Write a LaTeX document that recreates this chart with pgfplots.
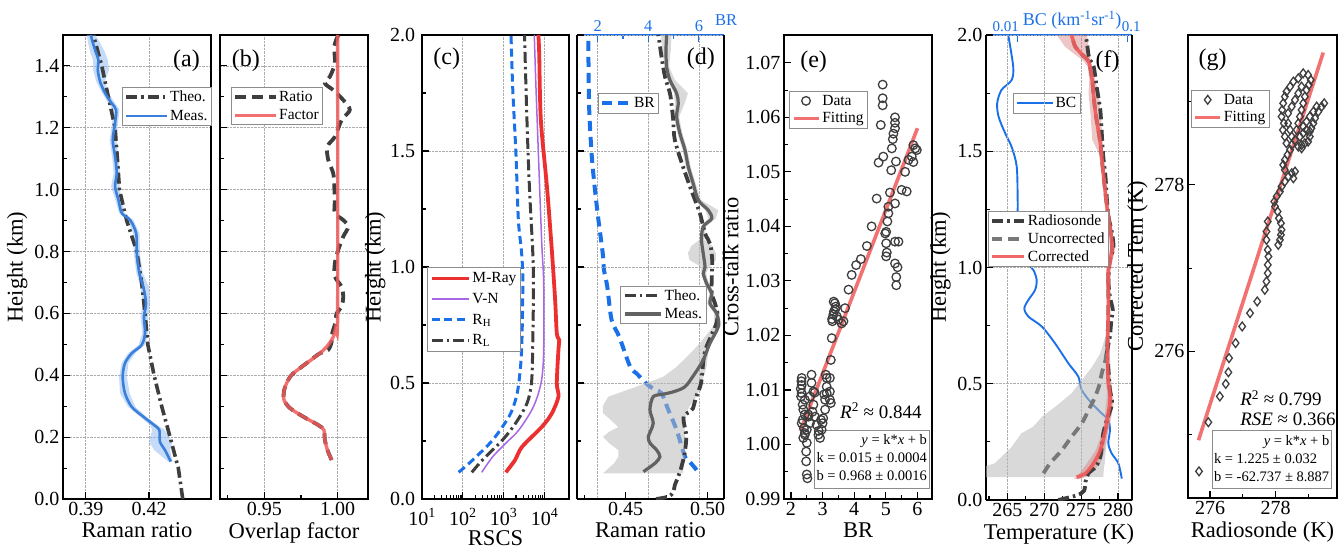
\documentclass[border=0pt]{standalone}
\usepackage{fontspec}
\setmainfont{Liberation Serif}
\usepackage{pgfplots}
\usepackage{pgfplotstable}
\pgfplotsset{compat=1.18}

% colours
\definecolor{dgray}{RGB}{62,62,62}
\definecolor{measblue}{RGB}{58,128,218}
\definecolor{bandblue}{RGB}{150,190,240}
\definecolor{fitred}{RGB}{240,88,88}
\definecolor{mray}{RGB}{236,48,48}
\definecolor{vnpurple}{RGB}{168,104,228}
\definecolor{dblue}{RGB}{26,112,232}
\definecolor{mgray}{RGB}{98,98,98}
\definecolor{ugray}{RGB}{120,120,120}
\definecolor{bgray}{RGB}{185,185,185}
\definecolor{bandred}{RGB}{215,130,130}

% font sizes
\newcommand{\fsTick}{\fontsize{20}{22}\selectfont}
\newcommand{\fsLabel}{\fontsize{22.5}{24}\selectfont}
\newcommand{\fsLeg}{\fontsize{15.5}{17}\selectfont}
\newcommand{\fsTag}{\fontsize{24}{26}\selectfont}
\newcommand{\fsBox}{\fontsize{14.5}{18}\selectfont}
\newcommand{\fsR}{\fontsize{19}{20.5}\selectfont}
\newcommand{\fsTop}{\fontsize{16.5}{18}\selectfont}
\newcommand{\fsTopS}{\fontsize{15}{17}\selectfont}
\newcommand{\fsTopL}{\fontsize{18}{20}\selectfont}

\tikzset{tag/.style={font=\fsTag}}

\pgfplotsset{
  panel/.style={
    scale only axis, height=464pt, scaled ticks=false,
    axis line style={line width=1.6pt, black},
    tick align=inside, tick pos=left,
    major tick length=7pt, minor tick length=4pt,
    tick style={line width=1.1pt, black},
    tick label style={font=\fsTick},
    label style={font=\fsLabel},
    /pgf/number format/assume math mode=true,
    grid style={densely dotted, line width=0.7pt, black!32},
    legend cell align=left,
    legend style={font=\fsLeg, draw=black!45, line width=0.8pt, fill=white,
      inner xsep=2pt, inner ysep=1.5pt, row sep=1.5pt, anchor=north west},
  },
  leglen/.style={legend image code/.code={%
    \draw[mark repeat=2,mark phase=2,##1] plot coordinates {(0pt,0pt) (#1/2,0pt) (#1,0pt)};}},
  dashdot/.style={dash pattern=on 11pt off 4pt on 2.5pt off 4pt},
}

% ---------- (a) Raman ratio, 0-1.5 km ----------
\pgfplotstableread[row sep=\\]{
h x \\
0.0 0.4360 \\ 0.1 0.4339 \\ 0.2 0.4300 \\ 0.3 0.4260 \\ 0.4 0.4224 \\
0.5 0.4194 \\ 0.6 0.4181 \\ 0.7 0.4165 \\ 0.8 0.4142 \\ 0.9 0.4094 \\
1.0 0.4060 \\ 1.1 0.4050 \\ 1.2 0.4039 \\ 1.3 0.4007 \\ 1.4 0.3976 \\ 1.5 0.3936 \\
}\theoA
\pgfplotstableread[row sep=\\]{
h x \\
0.121 0.4303 \\ 0.158 0.4276 \\ 0.185 0.4252 \\ 0.223 0.4249 \\ 0.239 0.4224 \\
0.266 0.4173 \\ 0.298 0.4118 \\ 0.342 0.4086 \\ 0.395 0.4075 \\ 0.439 0.4086 \\
0.471 0.4118 \\ 0.498 0.4165 \\ 0.536 0.4181 \\ 0.589 0.4176 \\ 0.633 0.4186 \\
0.686 0.4173 \\ 0.730 0.4154 \\ 0.794 0.4142 \\ 0.859 0.4139 \\ 0.902 0.4110 \\
0.924 0.4071 \\ 0.967 0.4055 \\ 1.010 0.4039 \\ 1.053 0.4047 \\ 1.107 0.4039 \\
1.161 0.4028 \\ 1.215 0.4039 \\ 1.258 0.4044 \\ 1.279 0.4023 \\ 1.312 0.3992 \\
1.349 0.3968 \\ 1.387 0.3957 \\ 1.419 0.3960 \\ 1.446 0.3947 \\ 1.478 0.3932 \\
1.500 0.3924 \\
}\measA

% ---------- (b) overlap ----------
\pgfplotstableread[row sep=\\]{
h x \\
0.126 0.9959 \\ 0.158 0.9931 \\ 0.191 0.9913 \\ 0.223 0.9906 \\ 0.239 0.9868 \\
0.266 0.9766 \\ 0.294 0.9675 \\ 0.321 0.9634 \\ 0.353 0.9636 \\ 0.385 0.9663 \\
0.406 0.9697 \\ 0.439 0.9788 \\ 0.471 0.9879 \\ 0.498 0.9936 \\ 0.524 0.9970 \\
0.557 0.9988 \\ 0.600 1.0000 \\ 1.500 1.0000 \\
}\factorB
\pgfplotstableread[row sep=\\]{
h x \\
0.126 0.9959 \\ 0.158 0.9931 \\ 0.191 0.9913 \\ 0.223 0.9906 \\ 0.239 0.9868 \\
0.266 0.9766 \\ 0.294 0.9675 \\ 0.321 0.9634 \\ 0.353 0.9636 \\ 0.385 0.9663 \\
0.406 0.9697 \\ 0.439 0.9788 \\ 0.471 0.9879 \\ 0.482 0.9936 \\ 0.510 0.9960 \\
0.536 0.9963 \\ 0.570 0.9985 \\ 0.600 0.9993 \\ 0.622 1.0027 \\ 0.654 1.0038 \\
0.686 1.0027 \\ 0.719 0.9981 \\ 0.762 0.9981 \\ 0.805 1.0004 \\ 0.848 1.0038 \\
0.880 1.0072 \\ 0.902 1.0038 \\ 0.924 0.9981 \\ 0.967 0.9981 \\ 1.010 0.9977 \\
1.053 0.9970 \\ 1.096 0.9936 \\ 1.139 0.9929 \\ 1.171 0.9981 \\ 1.225 1.0027 \\
1.258 1.0083 \\ 1.290 1.0038 \\ 1.322 0.9970 \\ 1.344 0.9913 \\ 1.365 0.9947 \\
1.409 0.9981 \\ 1.463 0.9977 \\ 1.500 1.0004 \\
}\ratioB

% ---------- (c) range-scaled signals ----------
\pgfplotstableread[row sep=\\]{
h v \\
0.115 1130 \\ 0.168 1900 \\ 0.225 2820 \\ 0.312 8710 \\ 0.369 15100 \\
0.441 21900 \\ 0.499 20000 \\ 0.642 21900 \\ 0.685 22900 \\ 0.714 20000 \\
0.858 18200 \\ 1.073 15100 \\ 1.346 11480 \\ 1.634 8130 \\ 1.921 7410 \\ 2.000 7080 \\
}\mrayC
\pgfplotstableread[row sep=\\]{
h v \\
0.115 290 \\ 0.182 537 \\ 0.240 1122 \\ 0.297 2344 \\ 0.384 4900 \\
0.455 7080 \\ 0.527 8710 \\ 0.642 9550 \\ 0.930 9550 \\ 1.073 8710 \\
1.203 8130 \\ 1.490 7080 \\ 1.777 6170 \\ 2.000 5620 \\
}\vnC
\pgfplotstableread[row sep=\\]{
h v \\
0.115 79 \\ 0.168 174 \\ 0.254 537 \\ 0.355 1349 \\ 0.427 1950 \\
0.499 2344 \\ 0.642 2750 \\ 0.930 2950 \\ 1.060 2750 \\ 1.203 2290 \\
1.490 1995 \\ 1.777 1660 \\ 2.000 1514 \\
}\rhC
\pgfplotstableread[row sep=\\]{
h v \\
0.115 166 \\ 0.168 302 \\ 0.254 933 \\ 0.326 1950 \\ 0.412 3715 \\
0.499 4786 \\ 0.642 5130 \\ 0.930 5370 \\ 1.073 5130 \\ 1.346 4266 \\
1.634 3715 \\ 2.000 3236 \\
}\rlC

% ---------- (d) Raman ratio 0-2 km and BR ----------
\pgfplotstableread[row sep=\\]{
h br \\
0.125 5.91 \\ 0.160 5.64 \\ 0.182 5.45 \\ 0.297 5.12 \\ 0.384 4.79 \\
0.455 4.53 \\ 0.470 4.30 \\ 0.490 4.00 \\ 0.541 3.54 \\ 0.571 3.28 \\
0.700 2.85 \\ 0.772 2.55 \\ 0.915 2.38 \\ 0.987 2.25 \\ 1.059 2.20 \\
1.203 2.03 \\ 1.346 1.88 \\ 1.490 1.76 \\ 1.700 1.66 \\ 2.000 1.63 \\
}\brD
\pgfplotstableread[row sep=\\]{
h x \\
0.000 0.4685 \\ 0.010 0.4760 \\ 0.030 0.4790 \\ 0.060 0.4800 \\ 0.095 0.4820 \\
0.138 0.4840 \\ 0.197 0.4860 \\ 0.270 0.4870 \\ 0.330 0.4855 \\ 0.360 0.4855 \\
0.375 0.4890 \\ 0.390 0.4910 \\ 0.440 0.4930 \\ 0.500 0.4960 \\ 0.600 0.4975 \\
0.650 0.4990 \\ 0.700 0.5020 \\ 0.760 0.5055 \\ 0.800 0.5060 \\ 0.843 0.5045 \\
0.886 0.5025 \\ 0.944 0.5025 \\ 1.030 0.5028 \\ 1.100 0.5015 \\ 1.145 0.4984 \\
1.231 0.4953 \\ 1.332 0.4900 \\ 1.432 0.4850 \\ 1.547 0.4800 \\ 1.634 0.4790 \\
1.700 0.4780 \\ 1.749 0.4770 \\ 1.820 0.4740 \\ 1.900 0.4720 \\ 2.000 0.4700 \\
}\theoD
\pgfplotstableread[row sep=\\]{
h x \\
0.118 0.4608 \\ 0.154 0.4679 \\ 0.182 0.4709 \\ 0.211 0.4689 \\ 0.240 0.4650 \\
0.268 0.4638 \\ 0.326 0.4668 \\ 0.384 0.4648 \\ 0.441 0.4668 \\ 0.452 0.4730 \\
0.462 0.4790 \\ 0.484 0.4862 \\ 0.542 0.4923 \\ 0.599 0.4973 \\ 0.671 0.5014 \\
0.743 0.5065 \\ 0.800 0.5055 \\ 0.843 0.5014 \\ 0.886 0.5025 \\ 0.929 0.4994 \\
0.972 0.4974 \\ 1.000 0.4984 \\ 1.059 0.4973 \\ 1.117 0.4963 \\ 1.174 0.4973 \\
1.209 0.5025 \\ 1.245 0.5004 \\ 1.288 0.4943 \\ 1.360 0.4912 \\ 1.432 0.4882 \\
1.504 0.4862 \\ 1.576 0.4831 \\ 1.648 0.4811 \\ 1.705 0.4821 \\ 1.749 0.4811 \\
1.806 0.4770 \\ 1.863 0.4750 \\ 1.935 0.4746 \\ 2.000 0.4750 \\
}\measD

% ---------- (f) temperature and BC ----------
\pgfplotstableread[row sep=\\]{
h bc \\
0.092 0.0891 \\ 0.158 0.0828 \\ 0.201 0.0719 \\ 0.244 0.0671 \\ 0.301 0.0695 \\
0.344 0.0671 \\ 0.373 0.0583 \\ 0.416 0.0473 \\ 0.473 0.0384 \\ 0.531 0.0357 \\
0.588 0.0290 \\ 0.674 0.0219 \\ 0.746 0.0166 \\ 0.789 0.0125 \\ 0.824 0.0115 \\
0.860 0.0125 \\ 0.903 0.0144 \\ 0.946 0.0149 \\ 0.989 0.0139 \\ 1.032 0.0117 \\
1.147 0.0101 \\ 1.290 0.0100 \\ 1.434 0.0098 \\ 1.519 0.0088 \\ 1.577 0.0077 \\
1.648 0.0067 \\ 1.706 0.0065 \\ 1.763 0.0071 \\ 1.806 0.0088 \\ 1.864 0.0091 \\
2.000 0.0082 \\
}\bcF
\pgfplotstableread[row sep=\\]{
h t \\
0.000 271.9 \\ 0.020 274.4 \\ 0.040 275.4 \\ 0.080 275.6 \\ 0.115 276.0 \\
0.143 277.0 \\ 0.186 277.6 \\ 0.229 277.8 \\ 0.287 278.0 \\ 0.344 278.5 \\
0.416 279.2 \\ 0.473 278.9 \\ 0.560 278.7 \\ 0.631 278.5 \\ 0.703 278.9 \\
0.775 279.1 \\ 0.817 279.3 \\ 0.875 278.9 \\ 0.946 278.7 \\ 1.038 278.9 \\
1.080 279.4 \\ 1.147 279.2 \\ 1.219 278.7 \\ 1.290 278.5 \\ 1.391 278.3 \\
1.477 278.0 \\ 1.577 277.8 \\ 1.677 277.6 \\ 1.778 277.1 \\ 1.864 276.7 \\
1.892 276.2 \\ 1.914 276.0 \\ 1.964 275.8 \\ 2.000 275.6 \\
}\sondeF
\pgfplotstableread[row sep=\\]{
h t \\
0.115 269.9 \\ 0.158 270.8 \\ 0.215 272.4 \\ 0.272 273.7 \\ 0.330 275.1 \\
0.387 276.0 \\ 0.430 276.7 \\ 0.487 277.4 \\ 0.545 277.8 \\ 0.602 278.3 \\
0.659 278.5 \\ 0.703 278.6 \\ 0.846 278.7 \\ 0.989 278.7 \\ 1.080 279.2 \\
1.176 278.9 \\ 1.262 278.5 \\ 1.405 278.0 \\ 1.534 277.6 \\ 1.677 276.9 \\
1.806 276.5 \\ 1.864 276.2 \\ 1.892 275.9 \\ 1.920 275.0 \\ 1.950 274.2 \\
1.978 273.9 \\ 2.000 273.7 \\
}\uncF
\pgfplotstableread[row sep=\\]{
h t \\
0.098 274.4 \\ 0.115 275.6 \\ 0.158 276.7 \\ 0.215 277.6 \\ 0.301 278.3 \\
0.358 278.6 \\ 0.416 278.9 \\ 0.459 278.9 \\ 0.502 278.7 \\ 0.559 278.6 \\
0.703 278.6 \\ 0.846 278.7 \\ 0.989 278.7 \\ 1.080 279.2 \\ 1.176 278.9 \\
1.262 278.5 \\ 1.405 278.0 \\ 1.534 277.6 \\ 1.677 276.9 \\ 1.806 276.5 \\
1.864 276.2 \\ 1.892 275.9 \\ 1.920 275.0 \\ 1.950 274.2 \\ 1.978 273.9 \\
2.000 273.7 \\
}\corF

\begin{document}
\begin{tikzpicture}

% ================= (a) =================
\begin{axis}[panel, at={(63pt,-499pt)}, anchor=south west, width=148pt,
  xmin=0.3792, xmax=0.4494, ymin=0, ymax=1.5,
  xtick={0.39,0.42}, ytick={0,0.2,0.4,0.6,0.8,1.0,1.2,1.4},
  minor ytick={0.1,0.3,0.5,0.7,0.9,1.1,1.3,1.5},
  xmajorgrids, ymajorgrids,
  xticklabel style={/pgf/number format/.cd,fixed,fixed zerofill,precision=2},
  yticklabel style={/pgf/number format/.cd,fixed,fixed zerofill,precision=1},
  xlabel={Raman ratio}, ylabel={Height (km)},
  leglen=40pt, legend style={at={(0.399,0.888)}, row sep=3pt}]
% uncertainty band of the measured ratio
\addplot[fill=bandblue, fill opacity=0.55, draw=none, forget plot] coordinates {
(0.4290,0.121) (0.4225,0.158) (0.4200,0.185) (0.4215,0.223) (0.4205,0.239) (0.4158,0.266)
(0.4100,0.298) (0.4062,0.342) (0.4058,0.395) (0.4070,0.439) (0.4100,0.471) (0.4150,0.498)
(0.4168,0.536) (0.4160,0.589) (0.4170,0.633) (0.4160,0.686) (0.4140,0.730) (0.4128,0.794)
(0.4125,0.859) (0.4097,0.902) (0.4058,0.924) (0.4040,0.967) (0.4020,1.010) (0.4032,1.053)
(0.4025,1.107) (0.4013,1.161) (0.4025,1.215) (0.4030,1.258) (0.4008,1.279) (0.3978,1.312)
(0.3950,1.349) (0.3935,1.387) (0.3935,1.419) (0.3920,1.446) (0.3910,1.478) (0.3905,1.500)
(0.3945,1.500) (0.3965,1.478) (0.3990,1.446) (0.4005,1.419) (0.4010,1.387) (0.3990,1.349)
(0.4008,1.312) (0.4040,1.279) (0.4060,1.258) (0.4053,1.215) (0.4045,1.161) (0.4055,1.107)
(0.4062,1.053) (0.4060,1.010) (0.4070,0.967) (0.4085,0.924) (0.4125,0.902) (0.4155,0.859)
(0.4157,0.794) (0.4170,0.730) (0.4200,0.686) (0.4205,0.633) (0.4195,0.589) (0.4196,0.536)
(0.4180,0.498) (0.4135,0.471) (0.4102,0.439) (0.4095,0.395) (0.4108,0.342) (0.4135,0.298)
(0.4188,0.266) (0.4240,0.239) (0.4275,0.223) (0.4310,0.185) (0.4300,0.158) (0.4312,0.121)
};
\addplot[dgray, line width=3.6pt, dashdot] table[x=x,y=h]{\theoA};
\addlegendentry{Theo.}
\addplot[measblue, line width=2.6pt, smooth] table[x=x,y=h]{\measA};
\addlegendentry{Meas.}
\node[tag, anchor=east] at (rel axis cs:0.948,0.944) {(a)};
\end{axis}

% ================= (b) =================
\begin{axis}[panel, at={(220pt,-499pt)}, anchor=south west, width=148pt,
  xmin=0.9198, xmax=1.0207, ymin=0, ymax=1.5,
  xtick={0.95,1.00}, minor xtick={0.925,0.975},
  ytick={0,0.2,0.4,0.6,0.8,1.0,1.2,1.4}, minor ytick={0.1,0.3,0.5,0.7,0.9,1.1,1.3,1.5},
  yticklabels={}, xmajorgrids, ymajorgrids,
  xticklabel style={/pgf/number format/.cd,fixed,fixed zerofill,precision=2},
  xlabel={Overlap factor},
  leglen=40pt, legend style={at={(0.074,0.888)}, row sep=3pt}]
\addplot[dgray, line width=3.8pt, dash pattern=on 11pt off 6pt, smooth] table[x=x,y=h]{\ratioB};
\addlegendentry{Ratio}
\addplot[fitred, line width=3.4pt, opacity=0.85, smooth] table[x=x,y=h]{\factorB};
\addlegendentry{Factor}
\node[tag, anchor=west] at (rel axis cs:0.056,0.944) {(b)};
\end{axis}

% ================= (c) =================
\begin{axis}[panel, at={(422pt,-499pt)}, anchor=south west, width=147pt,
  xmode=log, xmin=10, xmax=39800, ymin=0, ymax=2,
  xtick={10,100,1000,10000},
  xticklabels={10\textsuperscript{1},10\textsuperscript{2},10\textsuperscript{3},10\textsuperscript{4}},
  xticklabel style={inner sep=1pt, yshift=-8.5pt},
  ytick={0,0.5,1,1.5,2}, minor ytick={0.25,0.75,1.25,1.75},
  yticklabel style={inner sep=1pt, xshift=-5.7pt,
    /pgf/number format/.cd,fixed,fixed zerofill,precision=1},
  xmajorgrids, ymajorgrids,
  xlabel={RSCS}, ylabel={Height (km)},
  leglen=37pt, legend style={at={(0.036,0.4994)}, row sep=5pt, inner ysep=3pt}]
\addplot[mray, line width=3.8pt, smooth] table[x=v,y=h]{\mrayC};
\addlegendentry{M-Ray}
\addplot[vnpurple, line width=1.5pt, smooth] table[x=v,y=h]{\vnC};
\addlegendentry{V-N}
\addplot[dblue, line width=3pt, dash pattern=on 8pt off 4.5pt, smooth] table[x=v,y=h]{\rhC};
\addlegendentry{R\textsubscript{H}}
\addplot[dgray, line width=3pt, dashdot, smooth] table[x=v,y=h]{\rlC};
\addlegendentry{R\textsubscript{L}}
\node[tag, anchor=west] at (rel axis cs:0.054,0.948) {(c)};
\end{axis}

% ================= (d) BR on the top axis =================
\begin{axis}[panel, at={(577pt,-499pt)}, anchor=south west, width=147pt,
  xmin=1.184, xmax=6.99, ymin=0, ymax=2,
  axis x line*=top, axis y line=none, xtick pos=right, xticklabel pos=right,
  xtick={2,4,6}, minor xtick={3,5}, xmajorgrids,
  x axis line style={dblue, line width=1.6pt},
  x tick style={dblue},
  xticklabel style={dblue, font=\fsTop},
  xlabel={BR}, xlabel style={dblue, font=\fsTop, at={(axis description cs:1.014,1)}, anchor=base, yshift=9pt},
  leglen=28pt, legend style={at={(0.141,0.876)}, inner ysep=2.5pt}]
\addplot[dblue, line width=4pt, dash pattern=on 10pt off 6pt, smooth] table[x=br,y=h]{\brD};
\addlegendentry{BR}
\end{axis}

% ================= (d) Raman ratio =================
\begin{axis}[panel, at={(577pt,-499pt)}, anchor=south west, width=147pt,
  xmin=0.4203, xmax=0.51, ymin=0, ymax=2,
  axis x line*=bottom, axis y line*=box, ytick pos=left, xtick pos=left,
  xtick={0.45,0.50}, minor xtick={0.425,0.475},
  ytick={0,0.5,1,1.5,2}, minor ytick={0.25,0.75,1.25,1.75}, yticklabels={},
  ymajorgrids,
  xticklabel style={/pgf/number format/.cd,fixed,fixed zerofill,precision=2},
  xlabel={Raman ratio},
  leglen=36pt, legend style={at={(0.295,0.46)}, row sep=2.5pt}]
% uncertainty band of the measured ratio
\addplot[fill=bgray, fill opacity=0.55, draw=none, forget plot] coordinates {
(0.4362,0.111) (0.4430,0.154) (0.4455,0.182) (0.4455,0.211) (0.4400,0.240) (0.4362,0.268)
(0.4400,0.290) (0.4455,0.310) (0.4410,0.340) (0.4362,0.370) (0.4360,0.400) (0.4394,0.441)
(0.4550,0.480) (0.4730,0.527) (0.4811,0.570) (0.4912,0.640) (0.4963,0.680) (0.5040,0.750)
(0.5040,0.800) (0.4998,0.843) (0.5010,0.886) (0.4980,0.929) (0.4960,0.972) (0.4960,1.000)
(0.4890,1.030) (0.4880,1.060) (0.4900,1.090) (0.4950,1.117) (0.4960,1.174) (0.5005,1.209)
(0.4985,1.245) (0.4928,1.288) (0.4897,1.360) (0.4867,1.432) (0.4847,1.504) (0.4816,1.576)
(0.4795,1.648) (0.4800,1.705) (0.4795,1.749) (0.4755,1.806) (0.4735,1.863) (0.4725,1.935)
(0.4715,2.000) (0.4780,2.000) (0.4775,1.935) (0.4765,1.863) (0.4800,1.806) (0.4880,1.749)
(0.4860,1.705) (0.4826,1.648) (0.4846,1.576) (0.4877,1.504) (0.4897,1.432) (0.4927,1.360)
(0.4960,1.288) (0.5065,1.245) (0.5050,1.209) (0.4990,1.174) (0.4980,1.117) (0.5030,1.090)
(0.5050,1.060) (0.5050,1.030) (0.5010,1.000) (0.4990,0.972) (0.5008,0.929) (0.5040,0.886)
(0.5030,0.843) (0.5070,0.800) (0.5085,0.750) (0.5020,0.680) (0.5005,0.640) (0.4994,0.570)
(0.4975,0.527) (0.4955,0.480) (0.4932,0.441) (0.4890,0.400) (0.4870,0.370) (0.4860,0.340)
(0.4860,0.310) (0.4860,0.290) (0.4862,0.268) (0.4862,0.240) (0.4862,0.211) (0.4860,0.182)
(0.4855,0.154) (0.4851,0.111)
};
\addplot[dgray, line width=3.8pt, dashdot, smooth] table[x=x,y=h]{\theoD};
\addlegendentry{Theo.}
\addplot[mgray, line width=3.2pt, smooth] table[x=x,y=h]{\measD};
\addlegendentry{Meas.}
\node[tag, anchor=east] at (rel axis cs:0.961,0.948) {(d)};
\end{axis}

% ================= (e) =================
\begin{axis}[panel, at={(784pt,-499pt)}, anchor=south west, width=148pt,
  xmin=1.78, xmax=6.46, ymin=0.99, ymax=1.0751,
  xtick={2,3,4,5,6}, minor xtick={2.5,3.5,4.5,5.5},
  ytick={0.99,1.00,1.01,1.02,1.03,1.04,1.05,1.06,1.07},
  minor ytick={0.995,1.005,1.015,1.025,1.035,1.045,1.055,1.065},
  yticklabel style={/pgf/number format/.cd,fixed,fixed zerofill,precision=2},
  xlabel={BR}, ylabel={Cross-talk ratio},
  leglen=25pt, legend style={at={(0.036,0.879)}, row sep=2pt}]
\addplot[only marks, mark=o, mark size=4.3pt, dgray, mark options={line width=1.3pt}] coordinates {
(2.34,1.0122) (2.33,1.0116) (2.34,1.0109) (2.31,1.0102) (2.34,1.0094) (2.32,1.0088)
(2.37,1.0073) (2.39,1.0064) (2.44,1.0055) (2.37,1.0045) (2.34,1.0039) (2.41,1.0030)
(2.44,1.0018) (2.39,1.0012) (2.48,0.9987) (2.48,0.9969) (2.50,0.9945) (2.52,0.9938)
(2.44,1.0082) (2.55,1.0051) (2.65,1.0128) (2.65,1.0113) (2.71,1.0097) (2.60,1.0088)
(2.71,1.0073) (2.55,1.0055) (2.60,1.0039) (2.50,1.0027) (2.76,1.0051) (2.81,1.0036)
(2.87,1.0018) (2.92,1.0012) (2.97,1.0027) (3.00,1.0039) (3.02,1.0048) (3.08,1.0064)
(3.08,1.0082) (3.13,1.0094) (3.13,1.0106) (3.13,1.0122) (3.23,1.0122) (3.23,1.0097)
(3.23,1.0082) (3.26,1.0076) (2.50,1.0003) (2.44,1.0021) (2.88,1.0025) (2.95,1.0045)
(3.05,1.0092) (3.10,1.0128) (2.75,1.0095) (2.68,1.0060)
(3.26,1.0155) (3.29,1.0195) (3.31,1.0226) (3.34,1.0238) (3.36,1.0244) (3.39,1.0259)
(3.42,1.0253) (3.45,1.0235) (3.50,1.0229) (3.60,1.0222) (3.66,1.0226) (3.71,1.0250)
(3.82,1.0284) (3.92,1.0311) (4.06,1.0329) (4.21,1.0340) (4.40,1.0364) (4.55,1.0400)
(4.71,1.0451) (3.35,1.0262) (3.40,1.0248) (3.30,1.0230)
(4.90,1.0660) (4.90,1.0635) (4.90,1.0622) (4.84,1.0586) (5.29,1.0600) (5.29,1.0590)
(5.29,1.0580) (5.24,1.0570) (5.22,1.0560) (5.19,1.0543) (5.32,1.0519) (5.17,1.0503)
(4.92,1.0528) (4.77,1.0517) (5.87,1.0549) (5.93,1.0543) (5.82,1.0528) (5.72,1.0522)
(5.98,1.0540) (5.87,1.0518) (5.61,1.0500) (5.66,1.0464) (5.13,1.0462) (5.29,1.0442)
(5.08,1.0436) (5.50,1.0467) (5.08,1.0424) (5.05,1.0409) (5.01,1.0390) (4.98,1.0387)
(5.40,1.0372) (5.29,1.0372) (5.01,1.0369) (5.03,1.0352) (5.01,1.0345) (5.29,1.0332)
(5.37,1.0325) (5.33,1.0307) (5.33,1.0292)
};
\addlegendentry{Data}
\addplot[fitred, line width=3.6pt, opacity=0.85] coordinates {(2.3,1.0025) (6.0,1.058)};
\addlegendentry{Fitting}
\node[tag, anchor=west] at (rel axis cs:0.086,0.943) {(e)};
\node[font=\fsR] at (rel axis cs:0.655,0.19) {\textit{R}\textsuperscript{2} ≈ 0.844};
\node[draw=black!45, line width=0.8pt, fill=white, font=\fsBox, anchor=south east, inner sep=2pt]
  at (rel axis cs:0.982,0.023)
  {\begin{tabular}{@{}l@{}}\multicolumn{1}{@{}r@{}}{\textit{y} = k*\textit{x} + b}\\
   k = 0.015 ± 0.0004\\ b = 0.968 ± 0.0016\end{tabular}};
\end{axis}

% ================= (f) BC on the top axis =================
\begin{axis}[panel, at={(986pt,-500pt)}, anchor=south west, width=146pt, height=465pt,
  xmode=log, xmin=0.00514, xmax=0.1104, ymin=0, ymax=2,
  axis x line*=top, axis y line=none, xtick pos=right, xticklabel pos=right,
  xtick={0.01}, xticklabels={0.01}, xminorticks=false,
  extra x ticks={0.1}, extra x tick labels={0.1},
  extra x tick style={xticklabel style={xshift=16pt}},
  x axis line style={dblue, line width=1.6pt},
  x tick style={dblue},
  xticklabel style={dblue, font=\fsTopS, xshift=-12pt},
  xlabel={BC (km\textsuperscript{-1}sr\textsuperscript{-1})},
  xlabel style={dblue, font=\fsTopL, at={(axis description cs:0.59,1)}, anchor=base, yshift=9pt},
  leglen=36pt, legend style={at={(0.187,0.876)}, inner ysep=2.5pt}]
\addplot[dblue, line width=1.9pt, smooth] table[x=bc,y=h]{\bcF};
\addlegendentry{BC}
\end{axis}

% ================= (f) temperature =================
\begin{axis}[panel, at={(986pt,-500pt)}, anchor=south west, width=146pt, height=465pt,
  xmin=262.1, xmax=281.9, ymin=0, ymax=2,
  axis x line*=bottom, axis y line*=box, ytick pos=left, xtick pos=left,
  xtick={265,270,275,280}, minor xtick={262.5,267.5,272.5,277.5},
  ytick={0,0.5,1,1.5,2}, minor ytick={0.25,0.75,1.25,1.75},
  yticklabel style={/pgf/number format/.cd,fixed,fixed zerofill,precision=1},
  xmajorgrids, ymajorgrids,
  xlabel={Temperature (K)}, ylabel={Height (km)},
  leglen=32pt, legend style={at={(0.012,0.6215)}}]
% spread of the uncorrected retrieval
\addplot[fill=bgray, fill opacity=0.55, draw=none, forget plot] coordinates {
(261.5,0.098) (261.5,0.140) (263.3,0.158) (265.6,0.229) (266.9,0.287) (268.5,0.315)
(269.7,0.358) (271.5,0.401) (273.7,0.459) (275.1,0.516) (276.5,0.573) (277.6,0.631)
(278.3,0.703) (278.6,0.720) (278.8,0.720) (278.9,0.703) (278.9,0.631) (279.0,0.573)
(279.1,0.516) (279.2,0.459) (279.2,0.401) (279.0,0.358) (278.8,0.315) (278.6,0.287)
(278.4,0.229) (278.2,0.158) (278.1,0.140) (278.0,0.098)
};
% spread of the corrected retrieval
\addplot[fill=bandred, fill opacity=0.45, draw=none, forget plot] coordinates {
(274.0,0.090) (274.8,0.115) (275.8,0.158) (277.0,0.215) (278.0,0.301) (278.2,0.358)
(278.4,0.416) (278.5,0.459) (278.4,0.502) (278.4,0.559) (278.4,0.703) (278.5,0.846)
(278.4,0.989) (278.9,1.080) (278.7,1.176) (278.3,1.262) (277.8,1.405) (277.4,1.490)
(276.5,1.550) (276.3,1.650) (276.0,1.750) (276.1,1.806) (275.9,1.864) (275.2,1.892)
(274.0,1.920) (272.8,1.950) (272.2,1.978) (271.7,2.000) (275.8,2.000) (275.9,1.978)
(276.0,1.950) (276.1,1.920) (276.3,1.892) (276.5,1.864) (276.9,1.806) (277.4,1.750)
(277.7,1.650) (277.9,1.550) (278.0,1.490) (278.2,1.405) (278.7,1.262) (279.1,1.176)
(279.6,1.080) (279.0,0.989) (278.9,0.846) (278.8,0.703) (278.8,0.559) (279.0,0.502)
(279.3,0.459) (279.4,0.416) (279.1,0.358) (278.7,0.301) (278.2,0.215) (277.6,0.158)
(276.4,0.115) (275.0,0.090)
};
\addplot[dgray, line width=3.8pt, dashdot, smooth] table[x=t,y=h]{\sondeF};
\addlegendentry{Radiosonde}
\addplot[ugray, line width=3.8pt, dash pattern=on 10pt off 6pt, smooth] table[x=t,y=h]{\uncF};
\addlegendentry{Uncorrected}
\addplot[fitred, line width=3.6pt, opacity=0.9, smooth] table[x=t,y=h]{\corF};
\addlegendentry{Corrected}
\node[tag, anchor=east] at (rel axis cs:0.94,0.942) {(f)};
\end{axis}

% ================= (g) =================
\begin{axis}[panel, at={(1188pt,-498pt)}, anchor=south west, width=149pt, height=463pt,
  xmin=275.33, xmax=279.87, ymin=274.24, ymax=279.8,
  xtick={276,278}, minor xtick={277,279},
  ytick={276,278}, minor ytick={275,277,279},
  xlabel={Radiosonde (K)}, ylabel={Corrected Tem (K)},
  leglen=25pt, legend style={at={(0.02,0.881)}, row sep=2pt}]
\addplot[only marks, mark=diamond, mark size=4.4pt, dgray, mark options={line width=1.3pt}] coordinates {
(275.665,274.56) (275.95,275.15) (276.30,275.46) (276.48,275.61) (276.56,275.75)
(276.58,275.92) (276.78,276.10) (276.98,276.30) (277.22,276.46) (277.44,276.60)
(277.67,276.74) (277.72,276.84) (277.76,276.94) (277.76,277.04) (277.78,277.14)
(277.76,277.22) (277.72,277.34) (277.72,277.44) (277.76,277.56) (278.08,277.28)
(278.13,277.34) (278.16,277.40) (278.18,277.46) (278.16,277.54) (278.10,277.60)
(278.06,277.68) (277.98,277.74) (277.96,277.80) (278.03,277.86) (278.13,277.92)
(278.18,277.98) (278.28,278.04) (278.39,278.10) (278.49,278.14) (278.59,278.16)
(278.54,278.08) (278.28,278.18) (278.23,278.24) (278.28,278.30) (278.36,278.36)
(278.44,278.42) (278.49,278.48) (278.59,278.54) (278.69,278.46) (278.79,278.48)
(278.89,278.50) (278.99,278.52) (279.04,278.58) (279.04,278.64) (279.09,278.68)
(279.15,278.74) (279.20,278.80) (279.30,278.88) (279.40,278.94) (279.48,278.98)
(279.25,278.94) (279.15,278.88) (279.04,278.82) (278.94,278.76) (278.84,278.70)
(278.18,278.82) (278.20,278.90) (278.23,278.98) (278.28,279.06) (278.33,279.12)
(278.44,279.18) (278.54,279.24) (278.69,279.28) (278.84,279.34) (278.99,279.32)
(279.07,279.26) (279.01,279.20) (278.94,279.14) (278.89,279.06) (278.84,278.98)
(278.79,278.90) (278.74,278.82) (278.69,278.74) (278.64,278.66) (278.38,278.86)
(278.49,278.94) (278.59,279.02) (278.69,279.10) (278.79,279.18) (278.38,278.74)
(278.44,278.66) (278.49,278.58) (278.28,278.58) (278.33,278.50) (278.74,278.58)
(278.84,278.62) (278.94,278.66) (278.79,278.44) (278.22,278.66) (278.25,278.74)
};
\addlegendentry{Data}
\addplot[fitred, line width=3.6pt, opacity=0.85] coordinates {(275.65,274.934) (279.45,279.589)};
\addlegendentry{Fitting}
\node[tag, anchor=west] at (rel axis cs:0.047,0.946) {(g)};
\node[font=\fsR, anchor=west, align=left] at (rel axis cs:0.327,0.194)
  {\textit{R}\textsuperscript{2} ≈ 0.799\\ \textit{RSE} ≈ 0.366};
\node[draw=black!45, line width=0.8pt, fill=white, font=\fsBox, anchor=south east, inner sep=2pt]
  at (rel axis cs:0.964,0.019)
  {\begin{tabular}{@{}l@{}}\multicolumn{1}{@{}r@{}}{\textit{y} = k*\textit{x} + b}\\
   k = 1.225 ± 0.032\\ b = -62.737 ± 8.887\end{tabular}};
\end{axis}

% page frame
\path (0pt,0pt) rectangle (1338pt,-547pt);
\end{tikzpicture}
\end{document}
